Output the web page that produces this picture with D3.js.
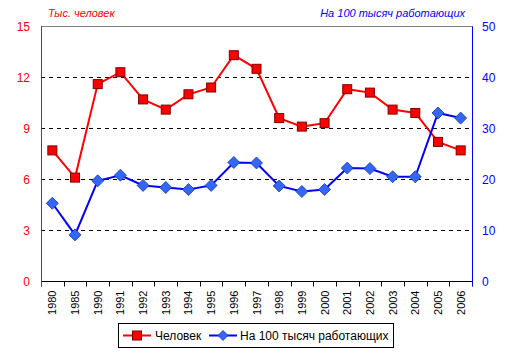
<!DOCTYPE html>
<html><head><meta charset="utf-8">
<script src="https://cdn.jsdelivr.net/npm/d3@7/dist/d3.min.js"></script>
<style>body{margin:0;background:#fff}svg{display:block}</style>
</head><body>
<svg id="c" width="513" height="357"></svg>
<script>
const categories = ["1980","1985","1990","1991","1992","1993","1994","1995","1996","1997","1998","1999","2000","2001","2002","2003","2004","2005","2006"];
const persons = [7.7,6.1,11.6,12.3,10.7,10.1,11.0,11.4,13.3,12.5,9.6,9.1,9.3,11.3,11.1,10.1,9.9,8.2,7.7];
const per100k = [15.3,9.1,19.7,20.8,18.8,18.4,18.0,18.8,23.3,23.2,18.7,17.6,18.0,22.2,22.1,20.5,20.5,33.0,32.0];
const leftTicks = [0,3,6,9,12,15];
const rightTicks = [0,10,20,30,40,50];
const seriesNames = ["Человек","На 100 тысяч работающих"];
const axisTitles = ["Тыс. человек","На 100 тысяч работающих"];

const svg = d3.select("#c");
const L = 41, R = 472, T = 26.3, B = 281.3;
const font = "'Liberation Sans', Arial, sans-serif";
const x = d3.scaleBand().domain(categories).range([L, R]);
const yL = d3.scaleLinear().domain([0,15]).range([B, T]);
const yR = d3.scaleLinear().domain([0,50]).range([B, T]);

// gridlines
svg.append("g").selectAll("line").data(leftTicks.filter(d=>d>0&&d<15)).join("line")
  .attr("x1", L).attr("x2", R).attr("y1", d=>Math.round(yL(d))+0.5).attr("y2", d=>Math.round(yL(d))+0.5)
  .attr("stroke","#000").attr("stroke-dasharray","4,4").attr("stroke-width",1);
// top border
svg.append("line").attr("x1",L).attr("x2",R).attr("y1",Math.round(T)+0.5).attr("y2",Math.round(T)+0.5)
  .attr("stroke","#808080");

// x axis
const xAxis = svg.append("g").attr("transform",`translate(0,${Math.round(B)+0.5})`);
xAxis.append("line").attr("x1",L).attr("x2",R).attr("stroke","#000");
const bounds = categories.map(c=>x(c)).concat([R]);
xAxis.selectAll("line.tk").data(bounds).join("line").attr("class","tk")
  .attr("x1",d=>Math.round(d)+0.5).attr("x2",d=>Math.round(d)+0.5).attr("y1",0).attr("y2",5).attr("stroke","#000");
xAxis.selectAll("text").data(categories).join("text")
  .attr("transform", d=>`translate(${x(d)+x.bandwidth()/2+4},9) rotate(-90)`)
  .attr("text-anchor","end").attr("font-family",font).attr("font-size",11).attr("fill","#000").text(d=>d);

// left axis
svg.append("line").attr("x1",L+0.5).attr("x2",L+0.5).attr("y1",T).attr("y2",B+5).attr("stroke","#ff0000");
svg.append("g").selectAll("text").data(leftTicks).join("text")
  .attr("x",30).attr("y",d=>yL(d)+4.5).attr("text-anchor","end")
  .attr("font-family",font).attr("font-size",12).attr("fill","#ff0000").text(d=>d);
// right axis
svg.append("line").attr("x1",R+0.5).attr("x2",R+0.5).attr("y1",T).attr("y2",B+5).attr("stroke","#0000ff");
svg.append("g").selectAll("text").data(rightTicks).join("text")
  .attr("x",482).attr("y",d=>yR(d)+4.5).attr("text-anchor","start")
  .attr("font-family",font).attr("font-size",12).attr("fill","#0000ff").text(d=>d);

// axis titles
svg.append("text").attr("x",48).attr("y",17).attr("font-family",font).attr("font-size",11)
  .attr("font-style","italic").attr("fill","#ff0000").text(axisTitles[0]);
svg.append("text").attr("x",465).attr("y",17).attr("text-anchor","end").attr("font-family",font).attr("font-size",11)
  .attr("font-style","italic").attr("fill","#0000ff").text(axisTitles[1]);

const cx = d=>x(d)+x.bandwidth()/2;
// red series
svg.append("path").datum(persons).attr("fill","none").attr("stroke","#ff0000").attr("stroke-width",2)
  .attr("d", d3.line().x((d,i)=>cx(categories[i])).y(d=>yL(d)));
// blue series
svg.append("path").datum(per100k).attr("fill","none").attr("stroke","#0000ff").attr("stroke-width",2)
  .attr("d", d3.line().x((d,i)=>cx(categories[i])).y(d=>yR(d)));

const sq = 9, dm = 6;
svg.append("g").selectAll("rect").data(persons).join("rect")
  .attr("x",(d,i)=>cx(categories[i])-sq/2).attr("y",d=>yL(d)-sq/2).attr("width",sq).attr("height",sq)
  .attr("fill","#ff0000").attr("stroke","#800000").attr("stroke-width",1);
svg.append("g").selectAll("path").data(per100k).join("path")
  .attr("transform",(d,i)=>`translate(${cx(categories[i])},${yR(d)})`)
  .attr("d",`M0,${-dm}L${dm},0L0,${dm}L${-dm},0Z`)
  .attr("fill","#3366ff").attr("stroke","#1a3399").attr("stroke-width",0.8);

// legend
const lg = svg.append("g");
lg.append("rect").attr("x",118.5).attr("y",323.5).attr("width",275).attr("height",24)
  .attr("fill","#fff").attr("stroke","#000");
lg.append("line").attr("x1",123).attr("x2",151).attr("y1",335.5).attr("y2",335.5).attr("stroke","#ff0000").attr("stroke-width",2);
lg.append("rect").attr("x",132.5).attr("y",331).attr("width",9).attr("height",9).attr("fill","#ff0000").attr("stroke","#800000");
lg.append("text").attr("x",155).attr("y",340).attr("font-family",font).attr("font-size",12).attr("fill","#000").text(seriesNames[0]);
lg.append("line").attr("x1",209).attr("x2",237).attr("y1",335.5).attr("y2",335.5).attr("stroke","#0000ff").attr("stroke-width",2);
lg.append("path").attr("transform","translate(223,335.5)").attr("d",`M0,-5L5,0L0,5L-5,0Z`)
  .attr("fill","#3366ff").attr("stroke","#1a3399").attr("stroke-width",0.8);
lg.append("text").attr("x",240).attr("y",340).attr("font-family",font).attr("font-size",12).attr("fill","#000").text(seriesNames[1]);
</script>
</body></html>
